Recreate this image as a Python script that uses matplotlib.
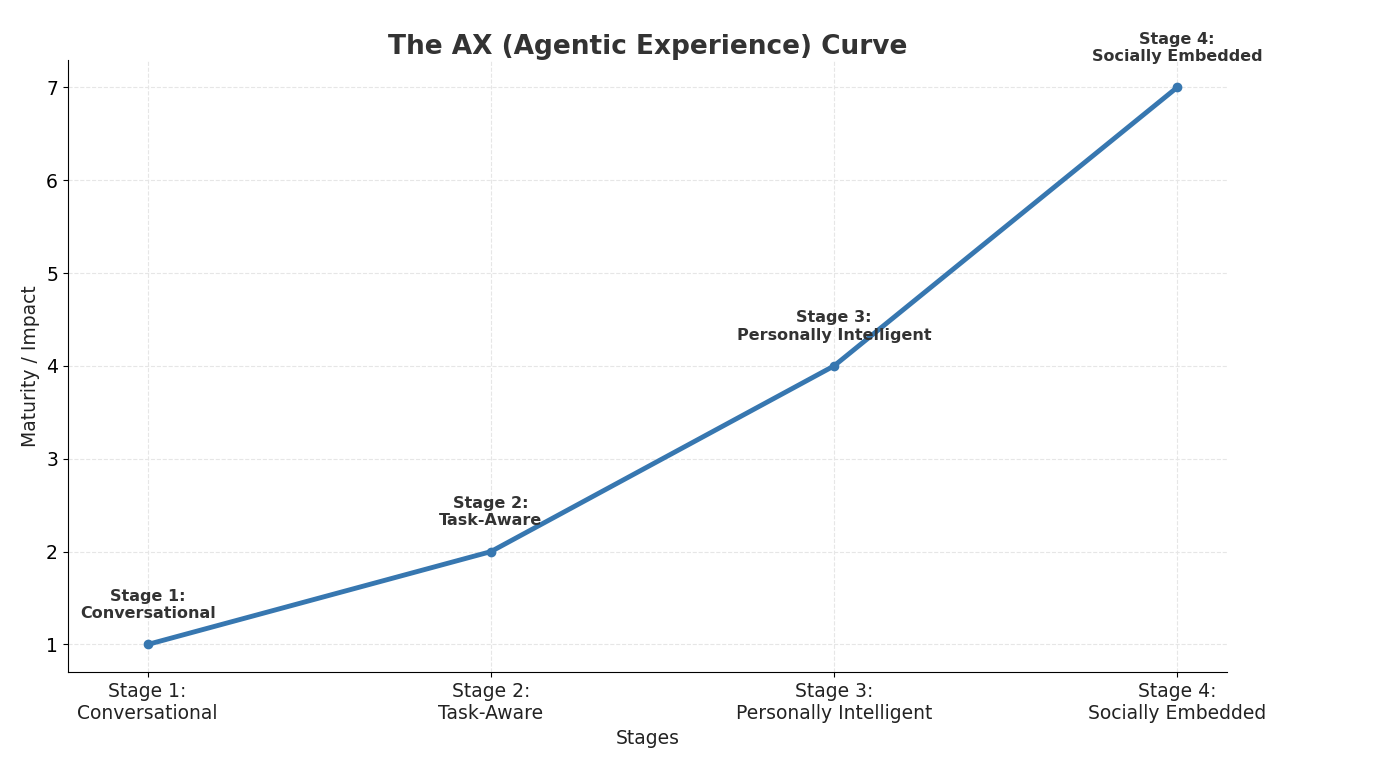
import matplotlib
matplotlib.use("Agg")
import matplotlib.pyplot as plt

stages = ["Stage 1:\nConversational", "Stage 2:\nTask-Aware", "Stage 3:\nPersonally Intelligent", "Stage 4:\nSocially Embedded"]
values = [1, 2, 4, 7]

fig = plt.figure(figsize=(13.82, 7.64), dpi=100)
ax = fig.add_axes([0.049, 0.12, 0.839, 0.802])
x = list(range(len(stages)))
ax.plot(x, values, color="#3777b0", linewidth=3.5, marker="o", markersize=6)
for xi, v, s in zip(x, values, stages):
    ax.text(xi, v + 0.25, s, ha="center", va="bottom", fontsize=11.5, fontweight="bold", color="#333333", linespacing=1.2)
ax.set_xticks(x)
ax.set_xticklabels(stages, fontsize=13.5, color="#222222")
ax.set_yticks(range(1, 8))
ax.tick_params(axis="y", labelsize=13.5)
ax.set_xlim(-0.233, 3.146)
ax.set_ylim(0.7, 7.3)
ax.grid(True, linestyle="--", color="#e6e6e6", linewidth=0.8)
ax.spines["top"].set_visible(False)
ax.spines["right"].set_visible(False)
ax.set_xlabel("Stages", fontsize=13.5, color="#222222")
ax.set_ylabel("Maturity / Impact", fontsize=13.5, color="#222222")
ax.set_title("The AX (Agentic Experience) Curve", fontsize=19, fontweight="bold", color="#333333", pad=4)
fig.savefig("out.png")
